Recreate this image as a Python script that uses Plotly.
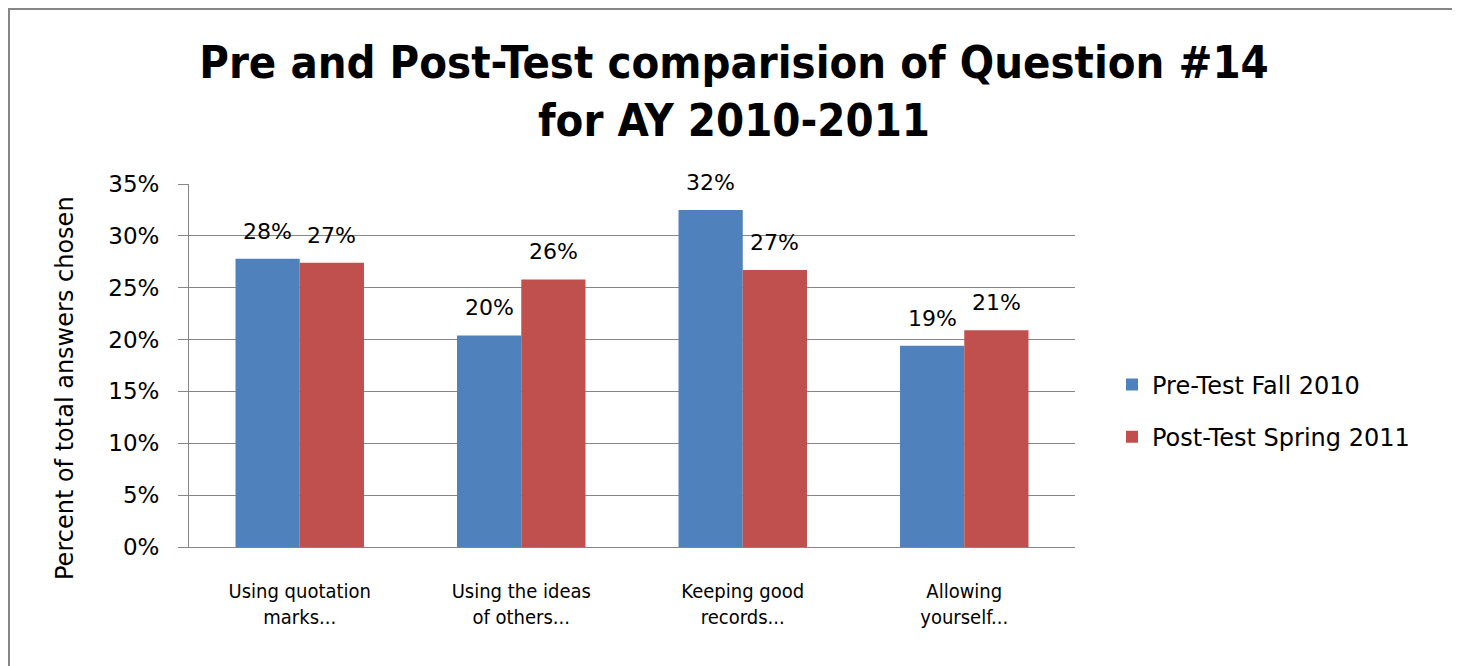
import plotly.graph_objects as go

categories = ["Using quotation<br>marks...", "Using the ideas<br>of others...", "Keeping good<br>records...", "Allowing<br>yourself..."]
pre_test = [27.8, 20.4, 32.5, 19.4]
post_test = [27.4, 25.8, 26.7, 20.9]
pre_labels = ["28%", "20%", "32%", "19%"]
post_labels = ["27%", "26%", "27%", "21%"]
y_ticks = [0, 5, 10, 15, 20, 25, 30, 35]
y_tick_labels = ["0%", "5%", "10%", "15%", "20%", "25%", "30%", "35%"]

# page is rendered with an 8px body margin, so figure is sized to fit
W, H = 1452, 658
ml, mt = 181, 176
pw, ph = 886, 363
mr = W - ml - pw
mb = H - mt - ph

wide_font = "DejaVu Sans, Verdana, sans-serif"
narrow_font = "DejaVu Sans Condensed, Liberation Sans, sans-serif"
title_font = "DejaVu Sans Condensed, Liberation Sans, sans-serif"

fig = go.Figure()
fig.add_trace(go.Bar(x=categories, y=pre_test, name="Pre-Test Fall 2010",
                     legendgroup="a", offsetgroup="a",
                     marker=dict(color="#4F81BD", line=dict(width=0))))
fig.add_trace(go.Bar(x=categories, y=post_test, name="Post-Test Spring 2011",
                     legendgroup="b", offsetgroup="b",
                     marker=dict(color="#C0504D", line=dict(width=0))))

bargap = 0.42
bar_px = pw / len(categories) * (1 - bargap) / 2
annotations = []
for cat, v, lab in zip(categories, pre_test, pre_labels):
    annotations.append(dict(x=cat, y=v, xref="x", yref="y", text=lab, showarrow=False,
                            xanchor="center", yanchor="bottom", xshift=-bar_px / 2, yshift=13,
                            font=dict(size=22, family=wide_font, color="#000000")))
for cat, v, lab in zip(categories, post_test, post_labels):
    annotations.append(dict(x=cat, y=v, xref="x", yref="y", text=lab, showarrow=False,
                            xanchor="center", yanchor="bottom", xshift=bar_px / 2, yshift=13,
                            font=dict(size=22, family=wide_font, color="#000000")))
annotations.append(dict(text="Percent of total answers chosen", textangle=-90, showarrow=False,
                        xref="paper", yref="paper", x=(57 - ml) / pw, y=(H - mb - 380) / ph,
                        xanchor="center", yanchor="middle",
                        font=dict(size=24, family=wide_font, color="#000000")))

fig.add_shape(type="rect", xref="paper", yref="paper",
              x0=(1 - ml) / pw, x1=(1445 - ml) / pw,
              y0=(H - mb - 662) / ph, y1=(H - mb - 1) / ph,
              line=dict(color="#868686", width=2), fillcolor="rgba(0,0,0,0)", layer="below")

fig.update_layout(
    width=W, height=H,
    margin=dict(l=ml, r=mr, t=mt, b=mb),
    paper_bgcolor="white", plot_bgcolor="white",
    font=dict(family=wide_font, color="#000000", size=22),
    title=dict(text="<b>Pre and Post-Test comparision of Question #14<br>for AY 2010-2011</b>",
               x=0.5, xref="container", xanchor="center", yref="container", y=0.894, yanchor="top",
               font=dict(size=45, family=title_font, color="#000000")),
    barmode="group", bargap=bargap, bargroupgap=0,
    annotations=annotations,
    legend=dict(x=(1104 - ml) / pw, y=(H - mb - 403) / ph, xanchor="left", yanchor="middle",
                font=dict(size=24, family=wide_font), tracegroupgap=18, traceorder="grouped",
                bgcolor="rgba(0,0,0,0)"),
    xaxis=dict(showgrid=False, showline=True, linecolor="#868686", linewidth=1,
               ticks="", tickfont=dict(size=20, family=narrow_font), ticklabelstandoff=26),
    yaxis=dict(range=[0, 35], tickvals=y_ticks, ticktext=y_tick_labels,
               showgrid=True, gridcolor="#868686", gridwidth=1,
               showline=True, linecolor="#868686", linewidth=1,
               ticks="outside", ticklen=10, tickcolor="#868686",
               tickfont=dict(size=23, family=wide_font), zeroline=False,
               ticklabelstandoff=14),
)

fig.write_html("out.html")
